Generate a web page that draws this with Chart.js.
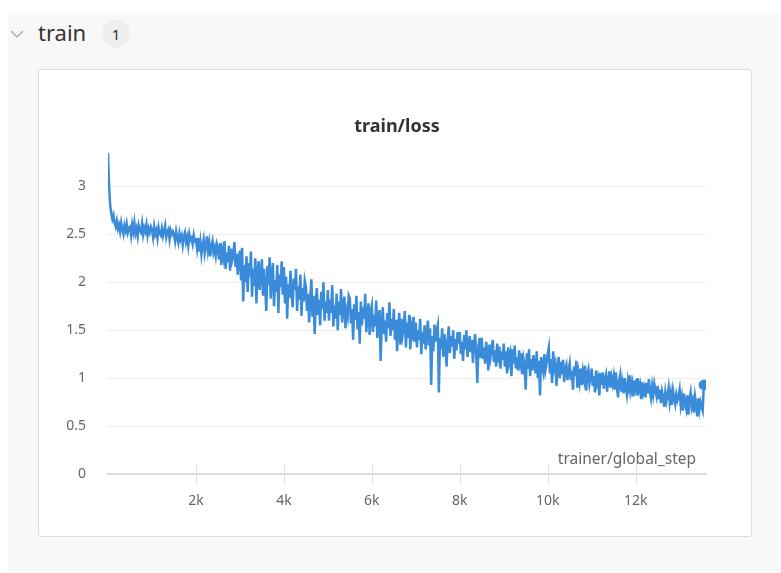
<!DOCTYPE html>
<html>
<head>
<meta charset="utf-8">
<script src="https://cdn.jsdelivr.net/npm/chart.js@4"></script>
<style>
  html, body { margin: 0; padding: 0; background: #fff; }
  body { width: 781px; height: 573px; position: relative; overflow: hidden; font-family: "Noto Sans", sans-serif; }
  .section { position: absolute; left: 8px; top: 13px; right: 0; bottom: 0; background: #f8f8f8; }
  .chevron { position: absolute; left: 10px; top: 28px; }
  .name { position: absolute; left: 38px; top: 17px; font-size: 22px; color: #333; }
  .badge { position: absolute; left: 102px; top: 20px; width: 28px; height: 28px; border-radius: 14px; background: #eeeeee; color: #333; font-size: 15px; text-align: center; line-height: 28px; }
  .card { position: absolute; left: 38px; top: 69px; width: 712px; height: 466px; background: #fff; border: 1px solid #dcdcdc; border-radius: 3px; }
  .card canvas { position: absolute; left: -1px; top: -1px; }
</style>
</head>
<body>
<div class="section"></div>
<svg class="chevron" width="16" height="12"><polyline points="1,3 7,9 13,3" fill="none" stroke="#aaa" stroke-width="1.3"/></svg>
<div class="name">train</div>
<div class="badge">1</div>
<div class="card"><canvas id="chart" width="714" height="468"></canvas></div>
<script>
// logged every 25 steps
const logEvery = 25;
const lossValues = [
  3.35, 3.00, 2.80, 2.72, 2.66, 2.70, 2.62, 2.58, 2.64, 2.56, 2.60, 2.53, 2.62, 2.55, 2.50, 2.59, 2.54, 2.61, 2.52, 2.57,
  2.58, 2.49, 2.60, 2.53, 2.62, 2.51, 2.56, 2.48, 2.59, 2.54, 2.52, 2.61, 2.50, 2.57, 2.53, 2.60, 2.49, 2.56, 2.52, 2.58,
  2.55, 2.47, 2.58, 2.50, 2.54, 2.46, 2.57, 2.51, 2.49, 2.56, 2.48, 2.53, 2.59, 2.47, 2.52, 2.55, 2.45, 2.54, 2.50, 2.53,
  2.50, 2.43, 2.53, 2.46, 2.41, 2.51, 2.45, 2.49, 2.39, 2.48, 2.52, 2.42, 2.47, 2.38, 2.50, 2.44, 2.46, 2.40, 2.49, 2.43,
  2.44, 2.35, 2.46, 2.32, 2.42, 2.29, 2.39, 2.45, 2.30, 2.37, 2.48, 2.33, 2.41, 2.27, 2.38, 2.43, 2.31, 2.36, 2.28, 2.40,
  2.36, 2.24, 2.41, 2.18, 2.33, 2.26, 2.43, 2.14, 2.31, 2.21, 2.38, 2.12, 2.35, 2.23, 2.28, 2.42, 2.16, 2.30, 2.08, 2.25,
  2.33, 2.02, 2.36, 1.80, 2.18, 2.00, 2.27, 1.90, 2.20, 2.06, 2.32, 1.85, 2.14, 1.96, 2.25, 1.78, 2.10, 2.22, 1.92, 2.08,
  2.24, 1.86, 2.14, 1.94, 1.70, 2.17, 1.97, 2.26, 1.83, 2.06, 2.20, 1.75, 2.02, 1.90, 2.18, 1.68, 2.08, 1.95, 2.22, 1.87,
  2.16, 1.78, 2.06, 1.62, 1.98, 1.84, 2.12, 1.88, 1.74, 2.04, 1.92, 2.14, 1.70, 1.96, 1.82, 2.08, 1.65, 1.94, 1.80, 2.02,
  1.96, 1.70, 1.88, 1.58, 1.84, 2.03, 1.64, 1.86, 1.46, 1.78, 1.94, 1.66, 1.82, 1.55, 1.90, 1.72, 2.00, 1.60, 1.80, 1.68,
  1.92, 1.60, 1.82, 1.68, 1.97, 1.54, 1.76, 1.62, 1.88, 1.50, 1.80, 1.66, 1.93, 1.58, 1.74, 1.85, 1.52, 1.70, 1.64, 1.86,
  1.83, 1.57, 1.72, 1.40, 1.77, 1.61, 1.86, 1.51, 1.69, 1.36, 1.80, 1.55, 1.74, 1.62, 1.88, 1.48, 1.66, 1.78, 1.45, 1.70,
  1.76, 1.48, 1.66, 1.54, 1.81, 1.42, 1.63, 1.71, 1.18, 1.57, 1.74, 1.46, 1.60, 1.38, 1.68, 1.52, 1.79, 1.44, 1.62, 1.50,
  1.72, 1.40, 1.61, 1.28, 1.56, 1.68, 1.35, 1.62, 1.45, 1.53, 1.70, 1.32, 1.58, 1.42, 1.66, 1.30, 1.54, 1.47, 1.64, 1.38,
  1.58, 1.32, 1.50, 1.40, 1.62, 1.25, 1.48, 1.36, 1.55, 1.30, 1.46, 1.60, 1.34, 1.52, 0.93, 1.44, 1.28, 1.56, 1.38, 1.49,
  1.55, 0.85, 1.42, 1.30, 1.52, 1.22, 1.46, 1.35, 1.12, 1.40, 1.54, 1.26, 1.44, 1.33, 1.50, 1.20, 1.41, 1.29, 1.48, 1.36,
  1.48, 1.25, 1.38, 1.18, 1.45, 1.30, 1.50, 1.22, 1.35, 1.44, 1.27, 1.40, 1.16, 1.36, 1.46, 1.24, 0.95, 1.33, 1.42, 1.21,
  1.42, 1.20, 1.32, 1.15, 1.38, 1.26, 1.08, 1.35, 1.22, 1.30, 1.40, 1.17, 1.29, 1.12, 1.36, 1.24, 1.33, 1.10, 1.28, 1.19,
  1.36, 1.12, 1.28, 1.05, 1.32, 1.18, 1.25, 1.02, 1.30, 1.15, 1.34, 1.10, 1.22, 1.08, 1.29, 1.16, 1.26, 1.04, 1.20, 1.13,
  0.88, 1.26, 1.10, 1.30, 1.02, 1.20, 1.08, 1.24, 1.14, 1.05, 1.28, 1.00, 1.18, 0.82, 1.22, 1.12, 1.06, 1.25, 1.09, 1.16,
  1.25, 1.32, 1.05, 1.20, 0.95, 1.28, 1.10, 1.15, 0.92, 1.12, 1.22, 1.00, 1.17, 1.04, 1.19, 0.96, 1.10, 1.14, 0.98, 1.08,
  1.15, 0.98, 1.08, 0.88, 1.12, 1.02, 1.18, 0.90, 1.05, 0.96, 1.10, 0.93, 1.07, 0.99, 1.13, 0.87, 1.04, 1.09, 0.94, 1.01,
  1.10, 0.92, 1.02, 0.85, 1.08, 0.95, 1.00, 0.82, 1.05, 0.93, 1.06, 0.89, 0.99, 1.04, 0.86, 0.97, 1.07, 0.90, 1.01, 0.94,
  1.02, 0.88, 1.06, 0.90, 0.80, 0.98, 1.04, 0.86, 0.95, 0.84, 1.00, 0.91, 0.83, 0.97, 0.89, 1.03, 0.87, 0.94, 0.81, 0.96,
  0.97, 0.82, 1.00, 0.88, 0.93, 0.78, 0.96, 0.85, 0.90, 0.80, 0.95, 0.84, 0.99, 0.86, 0.79, 0.92, 0.83, 0.94, 0.87, 0.81,
  0.92, 0.78, 0.88, 0.74, 0.86, 0.80, 0.70, 0.85, 0.76, 0.82, 0.90, 0.75, 0.84, 0.72, 0.87, 0.79, 0.73, 0.83, 0.77, 0.81,
  0.88, 0.72, 0.80, 0.66, 0.84, 0.74, 0.68, 0.82, 0.62, 0.78, 0.85, 0.70, 0.76, 0.64, 0.81, 0.73, 0.60, 0.79, 0.67, 0.75,
  0.70, 0.66, 0.93
];
const steps = lossValues.map((_, i) => i * logEvery);

const xTicks = [2000, 4000, 6000, 8000, 10000, 12000];
const xTickLabels = ['2k', '4k', '6k', '8k', '10k', '12k'];
const yTicks = [0, 0.5, 1, 1.5, 2, 2.5, 3];
const yTickLabels = ['0', '0.5', '1', '1.5', '2', '2.5', '3'];
const chartTitle = 'train/loss';
const xAxisName = 'trainer/global_step';

const FONT = '"Noto Sans", sans-serif';

// panel title, tick marks across the x axis, axis name above it
const panelDecor = {
  id: 'panelDecor',
  afterDraw(chart) {
    const ctx = chart.ctx;
    const x = chart.scales.x;
    const bottom = chart.chartArea.bottom;
    ctx.save();
    ctx.fillStyle = '#333';
    ctx.font = 'bold 18px ' + FONT;
    ctx.textAlign = 'center';
    ctx.textBaseline = 'middle';
    ctx.fillText(chartTitle, chart.width / 2 + 2, 58);

    ctx.strokeStyle = '#dcdcdc';
    ctx.lineWidth = 1;
    xTicks.forEach(t => {
      const px = Math.round(x.getPixelForValue(t)) + 0.5;
      ctx.beginPath();
      ctx.moveTo(px, bottom - 9);
      ctx.lineTo(px, bottom + 10);
      ctx.stroke();
    });
    ctx.fillStyle = '#666';
    ctx.font = '15.5px ' + FONT;
    ctx.textAlign = 'right';
    ctx.textBaseline = 'alphabetic';
    ctx.fillText(xAxisName, chart.chartArea.right - 10, bottom - 10);
    ctx.restore();
  }
};

new Chart(document.getElementById('chart').getContext('2d'), {
  type: 'line',
  data: {
    labels: steps,
    datasets: [{
      data: lossValues.map((v, i) => ({ x: steps[i], y: v })),
      borderColor: '#3a8bd9',
      backgroundColor: '#3a8bd9',
      borderWidth: 2.5,
      tension: 0,
      fill: false,
      pointRadius: ctx => ctx.dataIndex === lossValues.length - 1 ? 4 : 0,
      pointHoverRadius: 0
    }]
  },
  options: {
    responsive: false,
    animation: false,
    events: [],
    layout: { padding: { left: 0, right: 46, top: 81, bottom: 0 } },
    plugins: {
      legend: { display: false },
      tooltip: { enabled: false },
      title: { display: false }
    },
    scales: {
      x: {
        type: 'linear',
        min: 0,
        max: 13600,
        afterFit: s => { s.height = 63; },
        afterBuildTicks: s => { s.ticks = xTicks.map(v => ({ value: v })); },
        ticks: {
          color: '#666',
          font: { family: FONT, size: 14 },
          padding: 19,
          maxRotation: 0,
          callback: (v) => xTickLabels[xTicks.indexOf(v)]
        },
        grid: { display: false, drawTicks: false },
        border: { display: true, color: '#dcdcdc', width: 2 }
      },
      y: {
        min: 0,
        max: 3.38,
        afterFit: s => { s.width = 70; },
        afterBuildTicks: s => { s.ticks = yTicks.map(v => ({ value: v })); },
        ticks: {
          color: '#666',
          font: { family: FONT, size: 14 },
          padding: 22,
          callback: (v) => yTickLabels[yTicks.indexOf(v)]
        },
        grid: { color: '#eeeeee', lineWidth: 1, drawTicks: false },
        border: { display: false }
      }
    }
  },
  plugins: [panelDecor]
});
</script>
</body>
</html>
